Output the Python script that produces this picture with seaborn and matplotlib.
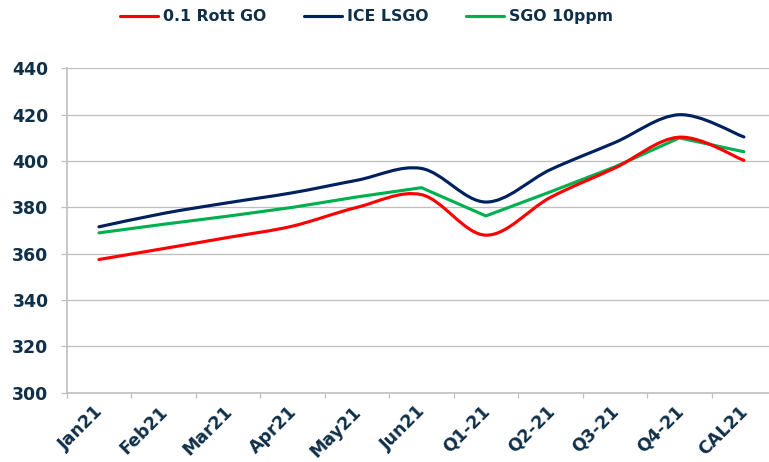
import numpy as np
import pandas as pd
import matplotlib
matplotlib.use("Agg")
import matplotlib.pyplot as plt
import matplotlib.transforms as mtransforms
from matplotlib.path import Path
from matplotlib.patches import PathPatch
from matplotlib.lines import Line2D
import seaborn as sns

# data
categories = ["Jan21", "Feb21", "Mar21", "Apr21", "May21", "Jun21",
              "Q1-21", "Q2-21", "Q3-21", "Q4-21", "CAL21"]
rott_go = [357.5, 362.2, 367.0, 371.9, 380.0, 385.5, 368.0, 384.3, 397.0, 410.3, 400.3]
ice_lsgo = [371.6, 377.4, 382.0, 386.3, 391.7, 396.8, 382.3, 396.3, 408.0, 420.0, 410.4]
sgo_10ppm = [369.0, 372.7, 376.2, 380.0, 384.5, 388.5, 376.3, 386.7, 397.5, 410.0, 404.0]
y_ticks = [300, 320, 340, 360, 380, 400, 420, 440]

RED = "#ff0000"
NAVY = "#002060"
GREEN = "#00b050"
TEXT = "#10304a"
GRID = "#bfbfbf"


def smooth_path(xs, ys):
    # Excel style smoothed line: cubic bezier through every point
    pts = np.column_stack([xs, ys]).astype(float)
    n = len(pts)
    verts = [pts[0]]
    codes = [Path.MOVETO]
    for i in range(n - 1):
        p0 = pts[i - 1] if i > 0 else pts[i]
        p1 = pts[i]
        p2 = pts[i + 1]
        p3 = pts[i + 2] if i + 2 < n else pts[i + 1]
        c1 = p1 + (p2 - p0) / 6.0
        c2 = p2 - (p3 - p1) / 6.0
        verts += [c1, c2, p2]
        codes += [Path.CURVE4] * 3
    return Path(verts, codes)


sns.set_theme(style="white")
plt.rcParams["font.family"] = ["DejaVu Sans"]

df = pd.DataFrame({"idx": np.arange(len(categories)), "sgo": sgo_10ppm})

fig = plt.figure(figsize=(7.69, 4.62), dpi=100)
ax = fig.add_axes([0.0867, 0.150, 0.9226, 0.702])

# straight line series
sns.lineplot(data=df, x="idx", y="sgo", ax=ax, color=GREEN, linewidth=2.25, zorder=3)

# smoothed series
xs = np.arange(len(categories))
for vals, col in [(rott_go, RED), (ice_lsgo, NAVY)]:
    ax.add_patch(PathPatch(smooth_path(xs, vals), facecolor="none", edgecolor=col,
                           linewidth=2.25, capstyle="round", joinstyle="round", zorder=3))

ax.set_xlim(-0.5, len(categories) - 0.5)
ax.set_ylim(300, 440)
ax.set_yticks(y_ticks)
ax.set_yticklabels([str(v) for v in y_ticks])
ax.set_xticks(xs)
ax.set_xticklabels(categories)
ax.set_xticks(np.arange(-0.5, len(categories)), minor=True)
ax.set_xlabel("")
ax.set_ylabel("")

ax.grid(axis="y", color=GRID, linewidth=0.9)
ax.grid(axis="x", visible=False)
ax.set_axisbelow(True)

for side in ["top", "right"]:
    ax.spines[side].set_visible(False)
for side in ["left", "bottom"]:
    ax.spines[side].set_color(GRID)
    ax.spines[side].set_linewidth(1.2)

ax.tick_params(axis="y", which="major", left=True, length=4, width=0.9, color=GRID,
               pad=9, labelsize=12.5, labelcolor=TEXT)
ax.tick_params(axis="x", which="major", bottom=False, length=0, pad=7,
               labelsize=12.5, labelcolor=TEXT)
ax.tick_params(axis="x", which="minor", bottom=True, length=3.5, width=0.9, color=GRID)

shift = mtransforms.ScaledTranslation(-0.05, 0, fig.dpi_scale_trans)
for lbl in ax.get_xticklabels():
    lbl.set_rotation(45)
    lbl.set_ha("right")
    lbl.set_va("top")
    lbl.set_rotation_mode("anchor")
    lbl.set_fontweight("bold")
    lbl.set_transform(lbl.get_transform() + shift)
for lbl in ax.get_yticklabels():
    lbl.set_fontweight("bold")

handles = [Line2D([], [], color=RED, linewidth=2.25),
           Line2D([], [], color=NAVY, linewidth=2.25),
           Line2D([], [], color=GREEN, linewidth=2.25)]
leg = fig.legend(handles, ["0.1 Rott GO", "ICE LSGO", "SGO 10ppm"],
                 loc="center", bbox_to_anchor=(0.4766, 0.964), ncol=3, frameon=False,
                 prop={"weight": "bold", "size": 11.3}, handlelength=2.42,
                 handletextpad=0.3, columnspacing=2.4)
for t in leg.get_texts():
    t.set_color(TEXT)

fig.savefig("out.png", dpi=100)
